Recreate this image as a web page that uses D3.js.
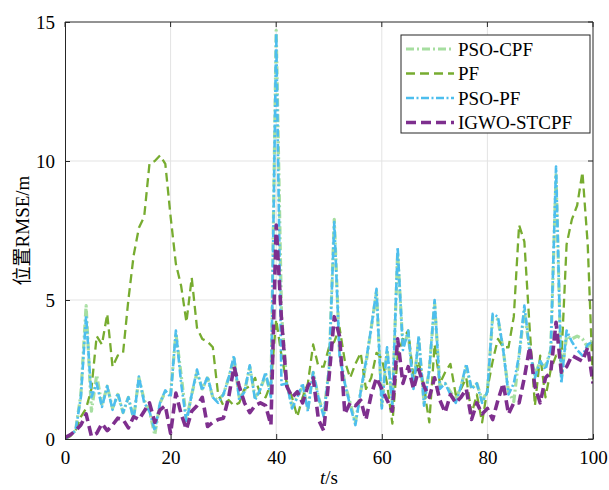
<!DOCTYPE html>
<html>
<head>
<meta charset="utf-8">
<script src="https://cdn.jsdelivr.net/npm/d3@7"></script>
<style>
  body { margin: 0; background: #fff; }
  svg text { font-family: "Liberation Serif", "Times New Roman", "Noto Sans CJK SC", serif; fill: #000; }
</style>
</head>
<body>
<div id="chart-container"></div>
<script>
// chart data (t = 0..100 s, step 1)

var seriesNames = ['PSO-CPF', 'PF', 'PSO-PF', 'IGWO-STCPF']

var xTicks = [0, 20, 40, 60, 80, 100]
var yTicks = [0, 5, 10, 15]

var psoPf = [0, 0.15, 0.3, 1.5, 4.45, 1.5, 2.0, 1.15, 1.9, 1.05,
    1.65, 0.95, 1.5, 0.7, 2.25, 1.3, 1.0, 0.3, 1.3, 1.75,
    1.5, 3.9, 2.0, 0.6, 1.6, 2.5, 1.75, 2.25, 1.5, 1.3,
    1.6, 2.2, 3.0, 1.4, 1.7, 2.65, 1.4, 1.8, 2.4, 1.5,
    14.6, 1.95, 2.0, 1.1, 1.5, 2.0, 1.0, 2.4, 1.5, 0.8,
    2.5, 7.8, 3.0, 2.0, 1.2, 0.5, 1.7, 2.8, 4.0, 5.4,
    1.1, 3.3, 1.2, 6.9, 3.2, 3.9, 1.8, 3.7, 1.2, 2.5,
    5.0, 1.8, 2.0, 1.6, 1.3, 1.9, 2.7, 1.8, 2.0, 1.3,
    1.7, 4.5, 4.4, 3.2, 1.6, 2.0, 3.0, 4.8, 3.2, 2.2,
    2.8, 2.5, 3.2, 9.8, 2.0, 3.9, 3.5, 3.2, 3.0, 3.4,
    3.5]

var psoCpf = [0, 0.15, 0.3, 1.6, 4.8, 1.0, 2.3, 1.2, 1.9, 1.1,
    1.6, 0.95, 1.5, 0.75, 2.2, 1.4, 1.0, 0.15, 1.3, 1.7,
    1.6, 3.8, 2.3, 0.7, 1.6, 2.4, 1.8, 2.2, 1.5, 1.4,
    1.6, 2.2, 2.9, 1.5, 1.7, 2.6, 1.5, 1.8, 2.3, 1.6,
    14.7, 4.5, 2.0, 1.2, 1.5, 1.9, 1.1, 2.4, 1.5, 0.9,
    2.5, 7.9, 3.1, 2.0, 1.3, 0.6, 1.7, 2.7, 4.0, 5.3,
    1.2, 3.2, 1.3, 6.7, 3.3, 3.8, 1.9, 3.6, 1.3, 2.5,
    4.9, 1.9, 2.0, 1.7, 1.4, 1.9, 2.6, 1.8, 2.0, 1.4,
    1.7, 4.4, 4.3, 3.2, 1.7, 1.35, 3.0, 4.6, 3.2, 2.3,
    2.8, 2.6, 3.2, 9.5, 2.2, 3.7, 3.6, 3.7, 3.6, 3.3,
    3.6]

var pf = [0, 0.1, 0.3, 0.8, 1.1, 1.8, 3.7, 3.4, 4.5, 2.6,
    3.0, 3.1, 5.0, 6.6, 7.6, 8.0, 9.9, 10.0, 10.2, 9.9,
    8.0, 6.3, 5.5, 4.2, 5.8, 4.0, 3.6, 3.5, 3.3, 1.6,
    1.2, 1.4, 1.2, 1.3, 1.8, 1.9, 2.2, 1.6, 1.5, 2.0,
    4.3, 3.0, 2.0, 1.5, 0.8, 1.5, 2.0, 3.4, 2.6, 2.6,
    3.3, 3.5, 4.0, 2.8, 2.2, 2.7, 3.1, 1.8, 2.2, 3.1,
    2.9, 2.0, 0.55, 3.0, 3.6, 3.9, 2.2, 2.8, 1.8, 0.6,
    3.4, 2.0, 2.4, 2.7, 1.6, 1.8, 2.2, 0.9, 1.6, 0.6,
    1.8, 2.8, 3.6, 3.3, 3.3, 4.4, 7.7, 7.1, 4.0, 1.2,
    3.0, 1.5, 2.5, 3.0, 2.8, 7.0, 7.9, 8.4, 9.6, 7.0,
    2.0]

var igwo = [0.05, 0.15, 0.3, 0.5, 0.9, 0.1, 0.2, 0.55, 0.3, 0.5,
    0.75, 0.7, 0.4, 0.8, 0.7, 1.0, 1.3, 0.6, 1.05, 1.2,
    0.2, 1.65, 0.9, 0.35, 1.0, 1.2, 1.5, 0.45, 0.6, 0.7,
    0.75, 1.5, 2.6, 1.9, 1.3, 0.95, 1.2, 1.3, 1.2, 0.5,
    7.7, 4.3, 1.9, 1.5, 1.7, 1.3, 1.9, 2.2, 0.7, 0.3,
    2.2, 4.4, 3.7, 0.9, 1.3, 1.2, 1.4, 0.7, 1.6, 2.2,
    1.8, 1.4, 1.0, 3.6, 2.0, 2.6, 1.8, 2.5, 1.9, 1.5,
    2.2, 1.4, 0.95, 1.6, 1.3, 1.5, 1.8, 0.7, 1.3, 0.9,
    1.1, 0.7, 1.4, 2.0, 0.9, 1.3, 1.3, 2.2, 3.3, 1.9,
    1.3, 2.2, 2.4, 4.2, 2.4, 2.6, 3.0, 2.9, 2.8, 3.3,
    2.0]

var seriesValues = [psoCpf, pf, psoPf, igwo]

// styles per series (same order as seriesNames)
var lineStyle = [
    {color: '#a6dea0', width: 3.2, dash: '8,3,2,3'},
    {color: '#77ac30', width: 2.3, dash: '9,5'},
    {color: '#4dbeee', width: 2.6, dash: '8,2.5,2,2.5'},
    {color: '#7e2f8e', width: 3.6, dash: '10,5'}
]

var width = 609, height = 490
var margin = {top: 22, right: 16, bottom: 51, left: 65}

var svg = d3.select('#chart-container')
    .append('svg')
    .attr('width', width)
    .attr('height', height)

var x = d3.scaleLinear()
    .domain([0, 100])
    .range([margin.left, width - margin.right])

var y = d3.scaleLinear()
    .domain([0, 15])
    .range([height - margin.bottom, margin.top])

// grid
svg.append('g')
    .selectAll('line.gx')
    .data(xTicks.slice(1, -1))
    .join('line')
    .attr('x1', d => x(d)).attr('x2', d => x(d))
    .attr('y1', y(0)).attr('y2', y(15))
    .attr('stroke', '#e3e3e3').attr('stroke-width', 1)

svg.append('g')
    .selectAll('line.gy')
    .data(yTicks.slice(1, -1))
    .join('line')
    .attr('x1', x(0)).attr('x2', x(100))
    .attr('y1', d => y(d)).attr('y2', d => y(d))
    .attr('stroke', '#e3e3e3').attr('stroke-width', 1)

// lines
var line = d3.line()
    .x((d, i) => x(i))
    .y(d => y(d))

svg.append('clipPath').attr('id', 'plotclip')
    .append('rect')
    .attr('x', x(0)).attr('y', y(15))
    .attr('width', x(100) - x(0)).attr('height', y(0) - y(15))

svg.append('g')
    .attr('clip-path', 'url(#plotclip)')
    .selectAll('path')
    .data(seriesValues)
    .join('path')
    .attr('d', d => line(d))
    .attr('fill', 'none')
    .attr('stroke', (d, i) => lineStyle[i].color)
    .attr('stroke-width', (d, i) => lineStyle[i].width)
    .attr('stroke-dasharray', (d, i) => lineStyle[i].dash)
    .attr('stroke-linejoin', 'round')

// axes (ticks inside, box round the plot)
var axisColor = '#262626'

var xAxis = g => g
    .attr('transform', `translate(0,${y(0)})`)
    .call(d3.axisBottom(x).tickValues(xTicks).tickSizeInner(-5).tickSizeOuter(0).tickPadding(12))
    .call(g => g.select('.domain').attr('stroke', axisColor))
    .call(g => g.selectAll('.tick line').attr('stroke', axisColor))
    .call(g => g.selectAll('.tick text').attr('font-size', 19).attr('font-family', 'Liberation Serif'))

var yAxis = g => g
    .attr('transform', `translate(${x(0)},0)`)
    .call(d3.axisLeft(y).tickValues(yTicks).tickSizeInner(-5).tickSizeOuter(0).tickPadding(10))
    .call(g => g.select('.domain').attr('stroke', axisColor))
    .call(g => g.selectAll('.tick line').attr('stroke', axisColor))
    .call(g => g.selectAll('.tick text').attr('font-size', 19).attr('font-family', 'Liberation Serif'))

svg.append('g').call(xAxis)
svg.append('g').call(yAxis)

// top and right edges, with their inward ticks
svg.append('line')
    .attr('x1', x(0)).attr('x2', x(100)).attr('y1', y(15)).attr('y2', y(15))
    .attr('stroke', axisColor)
svg.append('line')
    .attr('x1', x(100)).attr('x2', x(100)).attr('y1', y(0)).attr('y2', y(15))
    .attr('stroke', axisColor)
svg.append('g')
    .selectAll('line')
    .data(xTicks)
    .join('line')
    .attr('x1', d => x(d)).attr('x2', d => x(d))
    .attr('y1', y(15)).attr('y2', y(15) + 5)
    .attr('stroke', axisColor)
svg.append('g')
    .selectAll('line')
    .data(yTicks)
    .join('line')
    .attr('x1', x(100)).attr('x2', x(100) - 5)
    .attr('y1', d => y(d)).attr('y2', d => y(d))
    .attr('stroke', axisColor)

// axis titles
var xLabel = svg.append('text')
    .attr('x', (x(0) + x(100)) / 2)
    .attr('y', 484)
    .attr('text-anchor', 'middle')
    .attr('font-size', 19)
xLabel.append('tspan').attr('font-style', 'italic').text('t')
xLabel.append('tspan').text('/s')

svg.append('text')
    .attr('transform', `translate(29,${(y(0) + y(15)) / 2}) rotate(-90)`)
    .attr('text-anchor', 'middle')
    .attr('font-size', 19)
    .text('位置RMSE/m')

// legend
var leg = svg.append('g').attr('transform', 'translate(401,35)')

leg.append('rect')
    .attr('width', 189).attr('height', 98)
    .attr('fill', '#fff').attr('stroke', axisColor).attr('stroke-width', 1)

var legItem = leg.selectAll('g.item')
    .data(seriesNames)
    .join('g')
    .attr('transform', (d, i) => `translate(0,${14 + i * 24.5})`)

legItem.append('line')
    .attr('x1', 5).attr('x2', 53)
    .attr('y1', 0).attr('y2', 0)
    .attr('stroke', (d, i) => lineStyle[i].color)
    .attr('stroke-width', (d, i) => lineStyle[i].width)
    .attr('stroke-dasharray', (d, i) => lineStyle[i].dash)

legItem.append('text')
    .attr('x', 57)
    .attr('y', 6.5)
    .attr('font-size', 19)
    .text(d => d)
</script>
</body>
</html>
